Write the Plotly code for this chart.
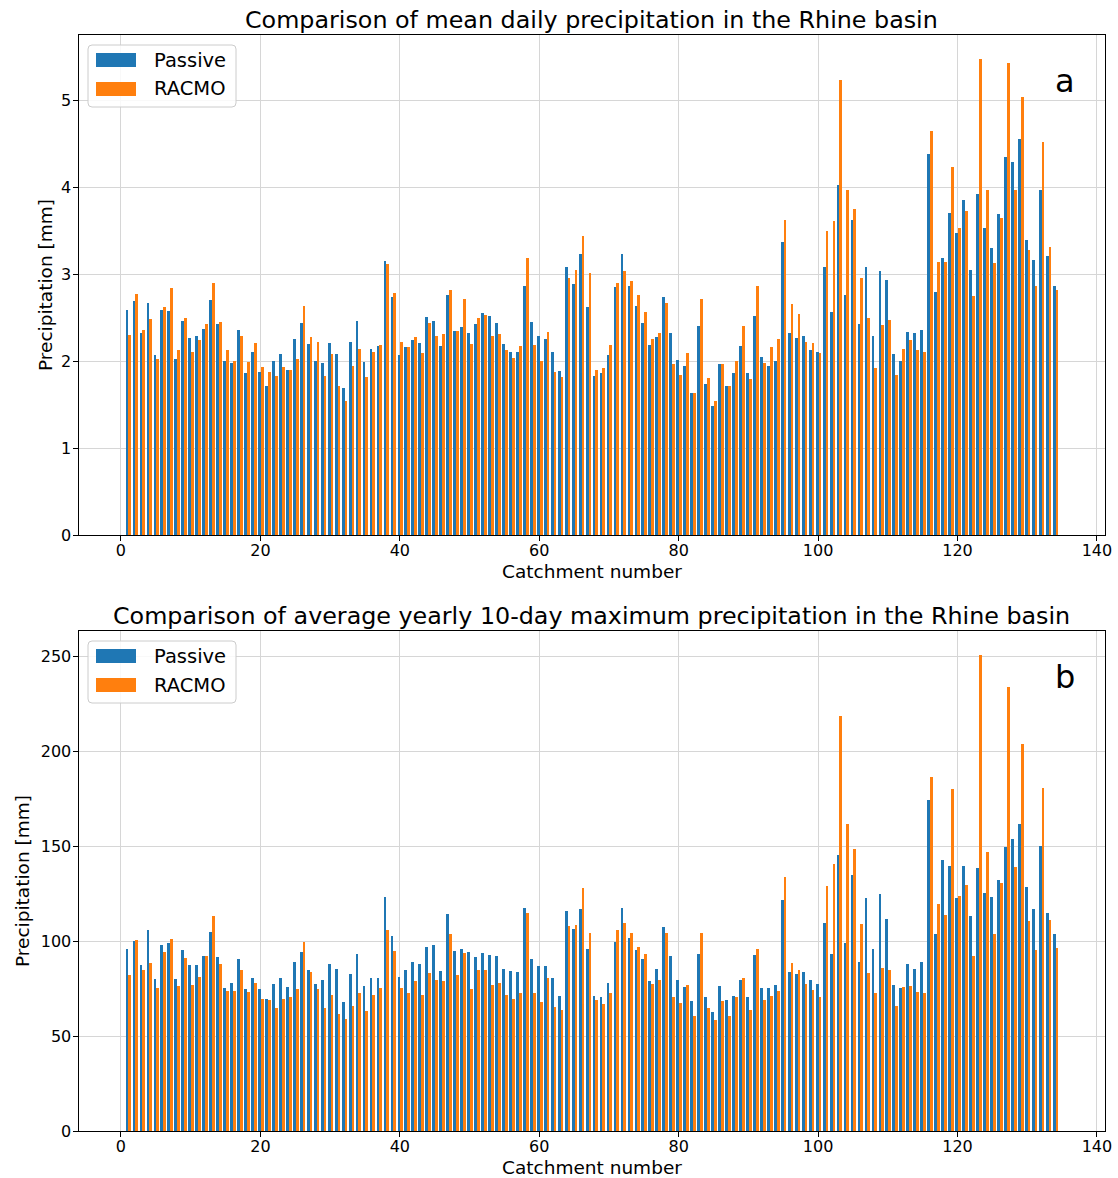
import plotly.graph_objects as go

# Catchment ids and precipitation values per catchment
catchments = list(range(1, 135))

mean_passive = [
    2.59, 2.69, 2.33, 2.67, 2.07, 2.59, 2.58, 2.02, 2.46, 2.27,
    2.29, 2.37, 2.71, 2.43, 2.00, 1.98, 2.36, 1.87, 2.11, 1.88,
    1.72, 2.00, 2.08, 1.90, 2.26, 2.44, 2.20, 2.00, 1.98, 2.21,
    2.08, 1.69, 2.22, 2.46, 1.99, 2.14, 2.17, 3.15, 2.74, 2.07,
    2.16, 2.24, 2.21, 2.51, 2.46, 2.17, 2.76, 2.35, 2.39, 2.32,
    2.43, 2.56, 2.52, 2.44, 2.20, 2.11, 2.11, 2.87, 2.45, 2.29,
    2.25, 2.11, 1.89, 3.08, 2.89, 3.23, 2.62, 1.83, 1.86, 2.07,
    2.85, 3.23, 2.86, 2.64, 2.44, 2.19, 2.28, 2.74, 2.33, 2.01,
    1.95, 1.63, 2.41, 1.74, 1.49, 1.97, 1.72, 1.86, 2.17, 1.86,
    2.52, 2.05, 1.95, 2.00, 3.37, 2.33, 2.27, 2.29, 2.13, 2.11,
    3.08, 2.57, 4.03, 2.76, 3.63, 2.43, 3.08, 2.29, 3.04, 2.93,
    2.08, 2.00, 2.34, 2.32, 2.36, 4.38, 2.80, 3.19, 3.70, 3.48,
    3.86, 3.05, 3.93, 3.53, 3.30, 3.69, 4.35, 4.29, 4.56, 3.39,
    3.17, 3.97, 3.21, 2.86,
]
mean_racmo = [
    2.30, 2.77, 2.36, 2.49, 2.03, 2.62, 2.84, 2.13, 2.50, 2.11,
    2.24, 2.43, 2.90, 2.45, 2.13, 2.00, 2.29, 1.99, 2.21, 1.93,
    1.88, 1.83, 1.93, 1.90, 2.03, 2.64, 2.28, 2.22, 1.83, 2.08,
    1.72, 1.54, 1.95, 2.14, 1.82, 2.11, 2.19, 3.12, 2.79, 2.22,
    2.16, 2.28, 2.09, 2.44, 2.29, 2.31, 2.82, 2.35, 2.72, 2.20,
    2.50, 2.53, 2.29, 2.31, 2.13, 2.04, 2.17, 3.19, 2.19, 2.00,
    2.34, 1.88, 1.82, 2.96, 3.05, 3.44, 3.01, 1.90, 1.92, 2.19,
    2.90, 3.04, 2.92, 2.76, 2.57, 2.25, 2.32, 2.67, 1.97, 1.84,
    2.10, 1.63, 2.72, 1.81, 1.54, 1.97, 1.72, 2.00, 2.41, 1.79,
    2.87, 1.98, 2.16, 2.26, 3.62, 2.66, 2.54, 2.22, 2.21, 2.09,
    3.50, 3.61, 5.24, 3.97, 3.75, 2.96, 2.50, 1.92, 2.42, 2.47,
    1.84, 2.14, 2.24, 2.13, 2.11, 4.65, 3.14, 3.14, 4.23, 3.53,
    3.73, 2.75, 5.48, 3.97, 3.13, 3.65, 5.43, 3.97, 5.04, 3.28,
    2.87, 4.52, 3.31, 2.82,
]

max10_passive = [
    96.0, 100.0, 87.5, 106.0, 80.0, 98.0, 99.0, 80.0, 95.3, 87.4,
    87.7, 92.5, 105.0, 91.8, 75.6, 78.1, 90.9, 75.1, 80.4, 75.1,
    69.8, 77.7, 80.9, 76.0, 89.1, 94.4, 85.1, 77.7, 79.5, 87.9,
    85.6, 68.1, 82.6, 93.2, 76.5, 80.4, 80.4, 123.2, 102.8, 81.2,
    85.1, 89.1, 87.9, 97.0, 98.2, 84.2, 114.2, 94.9, 96.1, 94.4,
    91.8, 93.9, 92.6, 92.1, 85.3, 84.4, 83.9, 117.7, 90.9, 86.8,
    86.8, 80.4, 71.1, 115.8, 106.7, 116.8, 96.1, 71.1, 70.7, 78.1,
    99.6, 117.7, 101.8, 95.6, 90.9, 79.0, 85.3, 107.5, 92.1, 79.5,
    76.0, 68.4, 93.2, 70.7, 62.5, 76.5, 69.3, 71.2, 79.5, 70.4,
    92.6, 75.6, 75.6, 77.2, 121.9, 83.9, 82.6, 83.9, 79.5, 77.7,
    109.8, 93.5, 145.3, 99.3, 135.1, 89.1, 122.8, 96.1, 125.1, 111.9,
    76.8, 75.4, 88.2, 85.3, 89.1, 174.6, 103.7, 142.6, 139.6, 122.8,
    139.6, 113.2, 138.6, 125.4, 123.3, 132.1, 149.6, 154.0, 161.9, 128.6,
    116.8, 150.0, 114.9, 103.7,
]
max10_racmo = [
    82.0, 100.9, 85.0, 88.6, 75.6, 94.4, 101.4, 76.3, 91.4, 77.2,
    81.2, 92.5, 113.2, 87.9, 73.9, 73.9, 84.7, 73.2, 78.1, 69.8,
    69.0, 64.6, 69.5, 70.7, 74.6, 99.6, 83.9, 75.1, 64.6, 71.6,
    61.9, 58.8, 65.8, 73.0, 63.2, 71.6, 75.4, 106.1, 94.9, 75.4,
    73.0, 78.9, 71.6, 83.5, 79.5, 78.9, 103.7, 82.1, 94.0, 74.6,
    84.7, 85.1, 77.2, 78.2, 71.6, 69.8, 73.0, 114.9, 72.5, 68.1,
    80.4, 65.1, 63.7, 107.9, 108.4, 128.1, 104.6, 69.3, 67.2, 72.8,
    106.1, 109.6, 104.6, 97.0, 93.2, 77.7, 79.5, 104.6, 70.7, 67.5,
    77.2, 60.4, 104.6, 64.6, 58.4, 68.4, 60.4, 70.4, 80.4, 63.7,
    95.8, 69.0, 71.1, 73.9, 133.9, 88.8, 85.1, 77.7, 74.2, 70.4,
    129.1, 140.5, 218.9, 161.9, 148.8, 108.9, 83.5, 72.5, 86.1, 84.7,
    66.0, 76.0, 76.5, 73.3, 72.8, 186.5, 119.8, 114.0, 180.4, 123.7,
    129.8, 92.1, 251.0, 147.0, 103.7, 130.7, 233.9, 139.1, 204.0, 110.5,
    95.6, 180.9, 111.4, 96.7,
]

series_names = ["Passive", "RACMO"]
colors = ["#1f77b4", "#ff7f0e"]
x_ticks = [0, 20, 40, 60, 80, 100, 120, 140]
top_y_ticks = [0, 1, 2, 3, 4, 5]
bottom_y_ticks = [0, 50, 100, 150, 200, 250]
titles = [
    "Comparison of mean daily precipitation in the Rhine basin",
    "Comparison of average yearly 10-day maximum precipitation in the Rhine basin",
]

W, H = 1118, 1178
FONT = "DejaVu Sans"
BAR_W = 0.4

# x range with a 5 % margin around the bar extent
x_lo = catchments[0] - BAR_W
x_hi = catchments[-1] + BAR_W
x_pad = 0.05 * (x_hi - x_lo)
x_range = [x_lo - x_pad, x_hi + x_pad]

# plot areas in pixels: (top, bottom); shared left/right edges
left_px, right_px = 78.5, 1104.5
panels_px = [(35, 535), (631, 1131)]


def px_x(x):
    return x / W


def px_y(y):
    return 1 - y / H


fig = go.Figure()

panel_data = [(mean_passive, mean_racmo), (max10_passive, max10_racmo)]
for k, (pas, rac) in enumerate(panel_data):
    xa = "x" if k == 0 else "x2"
    ya = "y" if k == 0 else "y2"
    for j, vals in enumerate((pas, rac)):
        fig.add_trace(go.Bar(
            x=catchments, y=vals, name=series_names[j],
            width=BAR_W, offset=-BAR_W + BAR_W * j,
            marker=dict(color=colors[j], line=dict(width=0)),
            xaxis=xa, yaxis=ya, showlegend=False,
        ))

axis_common = dict(
    showline=True, mirror=True, linecolor="black", linewidth=1,
    ticks="outside", ticklen=5, tickwidth=1, tickcolor="black",
    showgrid=True, gridcolor="#d6d6d6", gridwidth=1, zeroline=False,
    automargin=False,
    tickfont=dict(family=FONT, size=16, color="black"),
)
x_axis_style = dict(axis_common, ticklabelstandoff=-4)
y_axis_style = dict(axis_common, ticklabelstandoff=-2)

top_max = max(max(mean_passive), max(mean_racmo)) * 1.05
bot_max = max(max(max10_passive), max(max10_racmo)) * 1.05

fig.update_layout(
    width=W, height=H, autosize=False,
    margin=dict(l=0, r=0, t=0, b=0, autoexpand=False),
    paper_bgcolor="white", plot_bgcolor="white",
    barmode="overlay", bargap=0,
    xaxis=dict(domain=[px_x(left_px), px_x(right_px)], anchor="y",
               range=x_range, tickvals=x_ticks, **x_axis_style),
    yaxis=dict(domain=[px_y(panels_px[0][1]), px_y(panels_px[0][0])], anchor="x",
               range=[0, top_max], tickvals=top_y_ticks, **y_axis_style),
    xaxis2=dict(domain=[px_x(left_px), px_x(right_px)], anchor="y2",
                range=x_range, tickvals=x_ticks, **x_axis_style),
    yaxis2=dict(domain=[px_y(panels_px[1][1]), px_y(panels_px[1][0])], anchor="x2",
                range=[0, bot_max], tickvals=bottom_y_ticks, **y_axis_style),
)

annotations = []
shapes = []
cx = px_x((left_px + right_px) / 2)
ylab_x = [45, 22]
panel_letters = ["a", "b"]
for k, (top, bot) in enumerate(panels_px):
    # panel title
    annotations.append(dict(
        text=titles[k], xref="paper", yref="paper", x=cx, y=px_y(top - 15),
        xanchor="center", yanchor="middle", showarrow=False,
        font=dict(family=FONT, size=23.8, color="black")))
    # x axis title
    annotations.append(dict(
        text="Catchment number", xref="paper", yref="paper", x=cx, y=px_y(bot + 36),
        xanchor="center", yanchor="middle", showarrow=False,
        font=dict(family=FONT, size=18.5, color="black")))
    # y axis title
    annotations.append(dict(
        text="Precipitation [mm]", xref="paper", yref="paper",
        x=px_x(ylab_x[k]), y=px_y((top + bot) / 2), textangle=-90,
        xanchor="center", yanchor="middle", showarrow=False,
        font=dict(family=FONT, size=18.5, color="black")))
    # panel letter
    annotations.append(dict(
        text=panel_letters[k], xref="paper", yref="paper",
        x=px_x(1065), y=px_y(top + 46), xanchor="center", yanchor="middle",
        showarrow=False, font=dict(family=FONT, size=32, color="black")))

    # legend frame
    lx0, lx1 = 88, 236
    ly0, ly1 = top + 10, top + 72
    r = 4
    path = (
        f"M {px_x(lx0 + r)},{px_y(ly0)} L {px_x(lx1 - r)},{px_y(ly0)} "
        f"Q {px_x(lx1)},{px_y(ly0)} {px_x(lx1)},{px_y(ly0 + r)} "
        f"L {px_x(lx1)},{px_y(ly1 - r)} "
        f"Q {px_x(lx1)},{px_y(ly1)} {px_x(lx1 - r)},{px_y(ly1)} "
        f"L {px_x(lx0 + r)},{px_y(ly1)} "
        f"Q {px_x(lx0)},{px_y(ly1)} {px_x(lx0)},{px_y(ly1 - r)} "
        f"L {px_x(lx0)},{px_y(ly0 + r)} "
        f"Q {px_x(lx0)},{px_y(ly0)} {px_x(lx0 + r)},{px_y(ly0)} Z"
    )
    shapes.append(dict(type="path", path=path, xref="paper", yref="paper",
                       fillcolor="rgba(255,255,255,0.85)",
                       line=dict(color="#cccccc", width=1), layer="above"))
    for j, name in enumerate(series_names):
        yc = top + 25 + 29 * j
        shapes.append(dict(type="rect", xref="paper", yref="paper",
                           x0=px_x(96), x1=px_x(136),
                           y0=px_y(yc - 7), y1=px_y(yc + 7),
                           fillcolor=colors[j], line=dict(width=0), layer="above"))
        annotations.append(dict(
            text=name, xref="paper", yref="paper", x=px_x(152), y=px_y(yc),
            xanchor="left", yanchor="middle", showarrow=False,
            font=dict(family=FONT, size=19.5, color="black")))

fig.update_layout(annotations=annotations, shapes=shapes)

fig.write_html("out.html")
